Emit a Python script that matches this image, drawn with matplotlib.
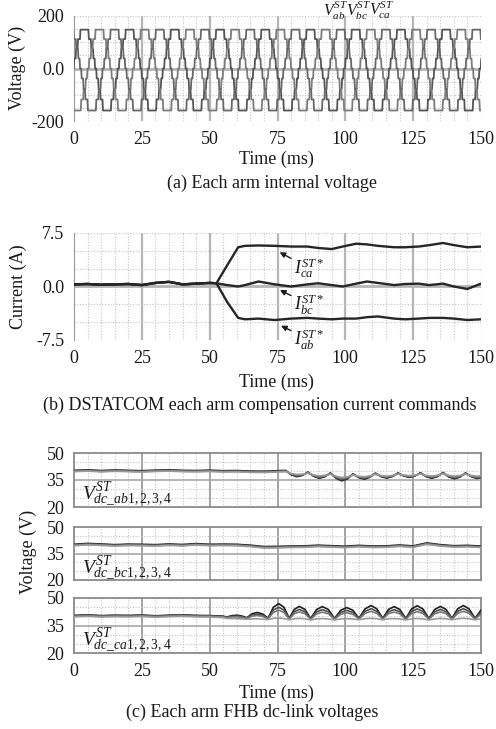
import numpy as np
import matplotlib
matplotlib.use('Agg')
import matplotlib.pyplot as plt

plt.rcParams['font.family'] = ['Liberation Serif', 'DejaVu Serif']
plt.rcParams['mathtext.fontset'] = 'custom'
plt.rcParams['mathtext.rm'] = 'Liberation Serif'
plt.rcParams['mathtext.it'] = 'Liberation Serif:italic'
plt.rcParams['mathtext.bf'] = 'Liberation Serif:bold'

# ------------------------------------------------------------------ data
TIME_TICKS = [0, 25, 50, 75, 100, 125, 150]

# (a) staircase arm voltages (60 Hz, 4 cells)
PERIOD_MS = 16.667
STAIR_TIMES = [0.3, 1.0, 1.7, 2.6, 5.7, 6.6, 7.4, 8.0, 8.6, 9.3, 10.0, 10.9, 14.0, 14.9, 15.7, 16.3]
STAIR_LEVELS = [1, 2, 3, 4, 3, 2, 1, 0, -1, -2, -3, -4, -3, -2, -1, 0]
LEVEL_VOLTS = [-160, -118, -78, -38, 0, 38, 76, 112, 148]
ARM_ZERO_MS = [-0.4, 5.16, 10.72]
ARM_LABELS_A = [r'$V_{ab}^{ST}$', r'$V_{bc}^{ST}$', r'$V_{ca}^{ST}$']
EDGE_MS = 0.18   # visible slope of each switching edge

# (b) current commands
t_cur = [0, 5, 10, 15, 20, 25, 30, 35, 40, 45, 50, 52.5, 56.5, 60.5, 63, 68, 74, 80, 86, 90, 95,
         99, 104, 108, 112, 118, 122, 127, 131, 136, 140, 145, 150]
i_ca = [0.3, 0.35, 0.25, 0.3, 0.35, 0.2, 0.5, 0.65, 0.3, 0.4, 0.5,
        0.45, 3.0, 5.5, 5.7, 5.75, 5.7, 5.6, 5.6, 5.4, 5.25, 5.6, 6.0, 5.9, 5.7, 5.5, 5.5, 5.6, 5.8, 6.1, 5.8, 5.5, 5.6]
i_bc = [0.3, 0.35, 0.25, 0.3, 0.35, 0.2, 0.5, 0.65, 0.3, 0.4, 0.5,
        0.45, 0.2, 0.0, 0.2, 0.7, 0.3, 0.0, 0.3, 0.45, 0.2, 0.0, 0.4, 0.7, 0.5, 0.2, 0.35, 0.4, 0.2, 0.4, 0.0, -0.35, 0.4]
i_ab = [0.3, 0.35, 0.25, 0.3, 0.35, 0.2, 0.5, 0.65, 0.3, 0.4, 0.5,
        0.45, -2.2, -4.4, -4.6, -4.5, -4.7, -4.5, -4.4, -4.5, -4.6, -4.5, -4.5, -4.3, -4.2, -4.5, -4.6, -4.5, -4.4, -4.4, -4.5, -4.7, -4.6]

# (c) dc-link voltages, arm ab: cusp level and dip depth
t_ab = [0, 5, 10, 15, 20, 25, 30, 35, 40, 45, 50, 55, 60, 65, 70, 75,
        78, 80, 82.1, 84.2, 86.2, 88.3, 90.4, 92.5, 94.5, 96.6, 98.7, 100.8, 102.8, 104.9, 107, 109,
        111.1, 113.2, 115.3, 117.4, 119.4, 121.5, 123.6, 125.7, 127.7, 129.8, 131.9, 134, 136, 138.1,
        140.2, 142.3, 144.3, 146.4, 148.5, 150]
ab_top = [40.0, 40.3, 39.9, 40.2, 40.0, 39.8, 40.1, 40.3, 40.0, 39.9, 40.1, 39.8, 39.9, 39.6, 39.5, 39.8,
          40.0, 39.7, 39.5, 39.3, 39.1, 38.9, 38.8, 38.7, 38.6, 38.4, 38.2, 38.1, 38.1, 38.2, 38.3, 38.4,
          38.5, 38.5, 38.5, 38.6, 38.6, 38.7, 38.7, 38.7, 38.7, 38.6, 38.6, 38.7, 38.8, 38.8, 38.7, 38.7,
          38.6, 38.6, 38.5, 38.5]
ab_dip = [0, 0, 0, 0, 0, 0, 0, 0, 0, 0, 0, 0, 0, 0, 0, 0,
          0, 2.1, 3.0, 2.1, 0, 2.2, 3.2, 2.2, 0, 2.8, 4.0, 2.8, 0, 2.2, 3.2, 2.2,
          0, 2.0, 2.8, 2.0, 0, 1.8, 2.6, 1.8, 0, 2.1, 3.0, 2.1, 0, 2.4, 3.4, 2.4,
          0, 2.1, 3.0, 2.4]
ab_cell_gain = [1.0, 0.8, 0.55, 0.35]
ab_cell_shift = [0.35, 0.1, -0.15, -0.35]

# arm bc
t_bc = [0, 5, 10, 15, 20, 25, 30, 35, 40, 45, 50, 55, 60, 65, 70, 75, 80, 85, 90, 95,
        100, 105, 110, 115, 120, 125, 130, 135, 140, 145, 150]
bc_mid = [39.8, 40.3, 40.0, 39.6, 39.9, 39.8, 39.6, 40.0, 39.7, 40.2, 39.8, 39.9, 39.8, 39.3, 38.5, 38.6,
          38.8, 38.9, 39.3, 39.0, 38.7, 39.2, 38.8, 38.9, 39.4, 38.9, 40.6, 39.6, 39.0, 39.2, 38.8]
bc_cell_shift = [0.4, 0.1, -0.15, -0.4]

# arm ca: trough level and bump height
t_ca = [0, 5, 10, 15, 20, 25, 30, 35, 40, 45, 50, 55,
        56.3, 58.2, 60, 61.8, 63.7, 65.6, 67.5, 69.5, 71.5, 73.5, 75.5, 77.4, 79.3, 81.2, 83, 85.1,
        87.2, 89.4, 91.5, 93.8, 96, 98.3, 100.5, 102.8, 105, 107.3, 109.5, 111.6, 113.8, 115.9, 118,
        120.1, 122.3, 124.4, 126.5, 128.6, 130.8, 132.9, 135, 137.1, 139.3, 141.4, 143.5, 145.6, 147.8, 150]
ca_base = [40.2, 40.5, 40.1, 40.3, 40.2, 40.4, 40.0, 40.3, 40.5, 40.2, 40.1, 39.8,
           39.3, 39.2, 39.1, 39.0, 38.9, 38.8, 38.8, 38.7, 38.7, 38.7,
           38.6, 38.6, 38.6, 38.6, 38.6, 38.6, 38.5, 38.5, 38.5, 38.5,
           38.5, 38.5, 38.5, 38.5, 38.6, 38.6, 38.6, 38.6, 38.6, 38.6,
           38.5, 38.5, 38.5, 38.5, 38.5, 38.5, 38.5, 38.5, 38.6, 38.6,
           38.6, 38.6, 38.6, 38.6, 38.6, 38.6]
ca_bump = [0, 0, 0, 0, 0, 0, 0, 0, 0, 0, 0, 0,
           0, 0.9, 1.2, 0.9, 0, 2.3, 3.0, 2.3, 0, 6.0, 8.0, 6.0, 0, 4.9, 6.5, 4.9,
           0, 4.9, 6.5, 4.9, 0, 4.5, 6.0, 4.5, 0, 5.2, 7.0, 5.2, 0, 4.9, 6.5, 4.9,
           0, 5.2, 7.0, 5.2, 0, 4.9, 6.5, 4.9, 0, 5.2, 7.0, 5.2, 0, 4.5]
ca_cell_gain = [1.0, 0.78, 0.6, 0.12]
ca_cell_shift = [0.3, 0.1, -0.1, -0.5]

CELL_COLORS = ['#1e1e1e', '#4e4e4e', '#777777', '#9a9a9a']
DC_LABELS = [r'$V_{dc\_ab\mathrm{1,2,3,4}}^{ST}$', r'$V_{dc\_bc\mathrm{1,2,3,4}}^{ST}$',
             r'$V_{dc\_ca\mathrm{1,2,3,4}}^{ST}$']

# ------------------------------------------------------------------ figure
W, H = 496, 729
fig = plt.figure(figsize=(W / 100, H / 100), dpi=100)
TXT = '#1a1a1a'
FS = 13


def box(top, bottom, left=74, right=481):
    return [left / W, 1 - bottom / H, (right - left) / W, (bottom - top) / H]


def vgrid(ax, major_color='#b5b5b5', major_lw=1.6, last_major=False):
    for x in range(5, 151, 5):
        if x % 25 == 0 and (x < 150 or last_major):
            ax.axvline(x, color=major_color, lw=major_lw, zorder=0)
        else:
            ax.axvline(x, color='#c4c4c4', lw=0.8, ls=(0, (1, 1.5)), zorder=0)


def style_ticks(ax, yticks, ylabels, show_x=True):
    ax.set_xlim(0, 150)
    ax.set_xticks(TIME_TICKS)
    ax.set_yticks(yticks)
    ax.set_yticklabels(ylabels)
    ax.tick_params(length=0, labelsize=FS, colors=TXT, pad=7)
    ax.tick_params(axis='x', pad=7)
    if not show_x:
        ax.set_xticklabels([])


# ---- (a)
ax_a = fig.add_axes(box(16, 121))
ax_a.set_ylim(-200, 200)
vgrid(ax_a)
for yv in [-200, -150, -100, -50, 50, 100, 150, 200]:
    ax_a.axhline(yv, color='#c4c4c4', lw=0.8, ls=(0, (1, 1.5)), zorder=0)
ax_a.axhline(0, color='#b5b5b5', lw=2.0, zorder=0)
arm_colors_a = ['#555555', '#7c7c7c', '#686868']
for z, c in zip(ARM_ZERO_MS, arm_colors_a):
    ts, vs = [], []
    prev = LEVEL_VOLTS[STAIR_LEVELS[-1] + 4]
    for k in range(-2, 11):
        for st, lv in zip(STAIR_TIMES, STAIR_LEVELS):
            t_sw = z + k * PERIOD_MS + st
            ts += [t_sw, t_sw + EDGE_MS]
            vs += [prev, LEVEL_VOLTS[lv + 4]]
            prev = LEVEL_VOLTS[lv + 4]
    ax_a.plot(ts, vs, color=c, lw=1.3, zorder=3)
for s in ['top', 'right', 'bottom']:
    ax_a.spines[s].set_visible(False)
ax_a.spines['left'].set_color('#9a9a9a')
style_ticks(ax_a, [-200, 0, 200], ['-200', '0.0', '200'])
for xpos, lab in zip([91.8, 100.3, 108.9], ARM_LABELS_A):
    ax_a.text(xpos, 220, lab, fontsize=11.5, color=TXT, ha='left', va='center', clip_on=False)

fig.text(17.5 / W, 1 - 68 / H, 'Voltage (V)', rotation=90, ha='center', va='center', fontsize=FS, color=TXT)
fig.text(276 / W, 1 - 159 / H, 'Time (ms)', ha='center', va='center', fontsize=FS, color=TXT)
fig.text(272 / W, 1 - 183 / H, '(a) Each arm internal voltage', ha='center', va='center', fontsize=FS, color=TXT)

# ---- (b)
ax_b = fig.add_axes(box(233, 340))
ax_b.set_ylim(-7.5, 7.5)
vgrid(ax_b)
for yv in [-7.5, -5, -2.5, 2.5, 5, 7.5]:
    ax_b.axhline(yv, color='#c4c4c4', lw=0.8, ls=(0, (1, 1.5)), zorder=0)
ax_b.axhline(0, color='#b5b5b5', lw=2.0, zorder=0)
for series in [i_ab, i_bc, i_ca]:
    ax_b.plot(t_cur, series, color='#262626', lw=1.7, zorder=3)
for s in ['top', 'right', 'bottom']:
    ax_b.spines[s].set_visible(False)
ax_b.spines['left'].set_color('#9a9a9a')
style_ticks(ax_b, [-7.5, 0, 7.5], ['-7.5', '0.0', '7.5'])
arrow_kw = dict(arrowstyle='-|>', color=TXT, lw=1.0, shrinkA=0, shrinkB=0, mutation_scale=8)
ax_b.annotate(r'$I_{ca}^{ST*}$', xy=(75.8, 4.8), xytext=(81.0, 2.6), ha='left', va='center',
              fontsize=FS, color=TXT, arrowprops=arrow_kw, annotation_clip=False)
ax_b.annotate(r'$I_{bc}^{ST*}$', xy=(75.9, -0.5), xytext=(81.0, -2.5), ha='left', va='center',
              fontsize=FS, color=TXT, arrowprops=arrow_kw, annotation_clip=False)
ax_b.annotate(r'$I_{ab}^{ST*}$', xy=(76.3, -5.5), xytext=(81.0, -7.4), ha='left', va='center',
              fontsize=FS, color=TXT, arrowprops=arrow_kw, annotation_clip=False)

fig.text(18 / W, 1 - 287 / H, 'Current (A)', rotation=90, ha='center', va='center', fontsize=FS, color=TXT)
fig.text(276 / W, 1 - 382 / H, 'Time (ms)', ha='center', va='center', fontsize=FS, color=TXT)
fig.text(260 / W, 1 - 405 / H, '(b) DSTATCOM each arm compensation current commands',
         ha='center', va='center', fontsize=FS, color=TXT)

# ---- (c)
c_boxes = [(453, 507), (527, 580), (598, 653)]
c_axes = []
for idx, (tp, bt) in enumerate(c_boxes):
    ax = fig.add_axes(box(tp, bt))
    ax.set_ylim(20, 50)
    vgrid(ax, major_color='#9c9c9c', major_lw=1.3)
    for yv in [25, 30, 40, 45]:
        ax.axhline(yv, color='#c4c4c4', lw=0.8, ls=(0, (1, 1.5)), zorder=0)
    ax.axhline(35, color='#a8a8a8', lw=1.2, zorder=0)
    for s in ax.spines.values():
        s.set_color('#8a8a8a')
        s.set_linewidth(1.3)
    style_ticks(ax, [20, 35, 50], ['20', '35', '50'], show_x=(idx == 2))
    ax.text(3.0, 26.5, DC_LABELS[idx], fontsize=14, color=TXT, ha='left', va='center', zorder=5)
    c_axes.append(ax)

for k in range(4):
    ab_cell = np.array(ab_top) - ab_cell_gain[k] * np.array(ab_dip) + ab_cell_shift[k]
    c_axes[0].plot(t_ab, ab_cell, color=CELL_COLORS[k], lw=1.2, zorder=3)
    bc_cell = np.array(bc_mid) + bc_cell_shift[k]
    c_axes[1].plot(t_bc, bc_cell, color=CELL_COLORS[k], lw=1.2, zorder=3)
    ca_cell = np.array(ca_base) + ca_cell_gain[k] * np.array(ca_bump) + ca_cell_shift[k]
    c_axes[2].plot(t_ca, ca_cell, color=CELL_COLORS[k], lw=1.2, zorder=3)

fig.text(28 / W, 1 - 552 / H, 'Voltage (V)', rotation=90, ha='center', va='center', fontsize=FS, color=TXT)
fig.text(276 / W, 1 - 693 / H, 'Time (ms)', ha='center', va='center', fontsize=FS, color=TXT)
fig.text(252 / W, 1 - 712 / H, '(c) Each arm FHB dc-link voltages', ha='center', va='center',
         fontsize=FS, color=TXT)

fig.savefig('out.png', dpi=100)
